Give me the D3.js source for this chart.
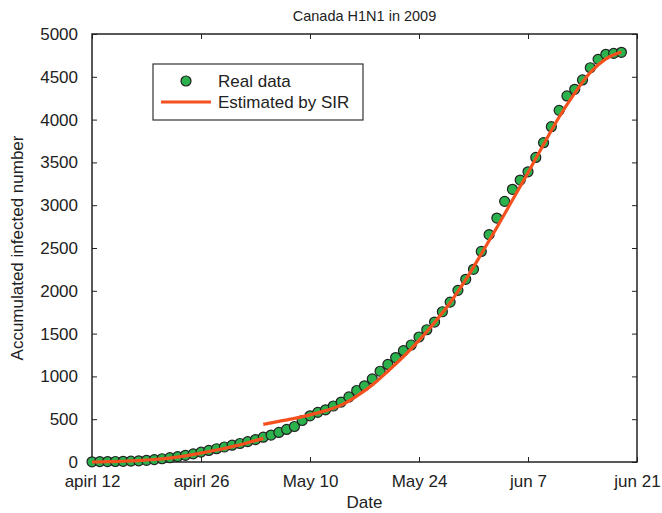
<!DOCTYPE html>
<html>
<head>
<meta charset="utf-8">
<script src="https://cdn.jsdelivr.net/npm/d3@7"></script>
<style>
  body { margin: 0; background: #fff; }
  svg text { font-family: "Liberation Sans", Arial, sans-serif; fill: #222; }
</style>
</head>
<body>
<div id="plot"></div>
<script>
// day index 0 = apirl 12
const tickDays = [0, 14, 28, 42, 56, 70];
const tickLabels = ["apirl 12", "apirl 26", "May 10", "May 24", "jun 7", "jun 21"];
const yTicks = [0, 500, 1000, 1500, 2000, 2500, 3000, 3500, 4000, 4500, 5000];

// real data, one value per day (days 0..68)
const realData = [
  2, 4, 5, 6, 8, 10, 14, 20, 28, 38,
  50, 63, 78, 95, 115, 135, 155, 175, 196, 216,
  238, 262, 290, 315, 345, 380, 415, 485, 540, 580,
  610, 654, 700, 760, 835, 890, 970, 1060, 1140, 1220,
  1300, 1367, 1460, 1545, 1635, 1755, 1868, 2005, 2134, 2251,
  2460, 2656, 2850, 3045, 3186, 3294, 3390, 3558, 3730, 3917,
  4108, 4276, 4354, 4463, 4606, 4704, 4763, 4774, 4786
];

// SIR estimate, two fitted pieces
const sirEarlyDays = [0, 2, 4, 6, 8, 10, 12, 14, 16, 18, 20, 22];
const sirEarly = [0, 4, 9, 17, 29, 46, 72, 104, 140, 180, 225, 276];
const sirLateDays = [22, 24, 26, 28, 30, 32, 34, 36, 38, 40, 42, 44, 46, 48, 50, 52, 54, 56, 58, 60, 62, 64, 66, 68];
const sirLate = [440, 475, 510, 550, 600, 665, 770, 900, 1060, 1230, 1420, 1630, 1860, 2130, 2430, 2740, 3060, 3380, 3710, 4030, 4310, 4550, 4710, 4790];

const W = 662, H = 513;
const mLeft = 92, mRight = 637, mTop = 34, mBottom = 462;

const svg = d3.select("#plot").append("svg")
  .attr("width", W).attr("height", H);

const x = d3.scaleLinear().domain([0, 70]).range([mLeft, mRight]);
const y = d3.scaleLinear().domain([0, 5000]).range([mBottom, mTop]);

// axes with inward ticks
svg.append("g")
  .attr("transform", `translate(0,${mBottom})`)
  .call(d3.axisBottom(x).tickValues(tickDays).tickFormat((d, i) => tickLabels[i])
    .tickSizeInner(-5).tickSizeOuter(0).tickPadding(12.5));
svg.append("g")
  .attr("transform", `translate(0,${mTop})`)
  .call(d3.axisTop(x).tickValues(tickDays).tickFormat("").tickSizeInner(-5).tickSizeOuter(0));
svg.append("g")
  .attr("transform", `translate(${mLeft},0)`)
  .call(d3.axisLeft(y).tickValues(yTicks).tickFormat(d3.format("d"))
    .tickSizeInner(-5).tickSizeOuter(0).tickPadding(14));
svg.append("g")
  .attr("transform", `translate(${mRight},0)`)
  .call(d3.axisRight(y).tickValues(yTicks).tickFormat("").tickSizeInner(-5).tickSizeOuter(0));

svg.selectAll(".domain").remove();
svg.selectAll(".tick line").attr("stroke", "#222").attr("stroke-width", 1);
svg.selectAll(".tick text").style("font-size", "17px").attr("fill", "#222");

svg.append("rect")
  .attr("x", mLeft).attr("y", mTop)
  .attr("width", mRight - mLeft).attr("height", mBottom - mTop)
  .attr("fill", "none").attr("stroke", "#222").attr("stroke-width", 1.5);

// titles
svg.append("text").attr("x", (mLeft + mRight) / 2).attr("y", 21)
  .attr("text-anchor", "middle").style("font-size", "14.5px")
  .text("Canada H1N1 in 2009");
svg.append("text").attr("x", (mLeft + mRight) / 2).attr("y", 508)
  .attr("text-anchor", "middle").style("font-size", "17px")
  .text("Date");
svg.append("text")
  .attr("transform", `translate(23,${(mTop + mBottom) / 2}) rotate(-90)`)
  .attr("text-anchor", "middle").style("font-size", "17px")
  .text("Accumulated infected number");

// real data points
const green = "#2bb24c";
svg.append("g").selectAll("circle")
  .data(realData)
  .join("circle")
  .attr("cx", (d, i) => x(i))
  .attr("cy", d => y(d))
  .attr("r", 5)
  .attr("fill", green)
  .attr("stroke", "#222")
  .attr("stroke-width", 1.2);

// SIR curves
const red = "#f4511e";
const line = d3.line().x(d => x(d[0])).y(d => y(d[1])).curve(d3.curveMonotoneX);
[[sirEarlyDays, sirEarly], [sirLateDays, sirLate]].forEach(([ds, vs]) => {
  svg.append("path")
    .datum(ds.map((d, i) => [d, vs[i]]))
    .attr("d", line)
    .attr("fill", "none")
    .attr("stroke", red)
    .attr("stroke-width", 3.2);
});

// legend
const lg = svg.append("g");
lg.append("rect").attr("x", 153).attr("y", 64).attr("width", 210).attr("height", 56)
  .attr("fill", "#fff").attr("stroke", "#333").attr("stroke-width", 1.2);
lg.append("circle").attr("cx", 186).attr("cy", 81).attr("r", 5)
  .attr("fill", green).attr("stroke", "#222").attr("stroke-width", 1.2);
lg.append("text").attr("x", 218).attr("y", 87).style("font-size", "17px").text("Real data");
lg.append("line").attr("x1", 161).attr("x2", 211).attr("y1", 102).attr("y2", 102)
  .attr("stroke", red).attr("stroke-width", 3.2);
lg.append("text").attr("x", 218).attr("y", 108).style("font-size", "17px").text("Estimated by SIR");
</script>
</body>
</html>
